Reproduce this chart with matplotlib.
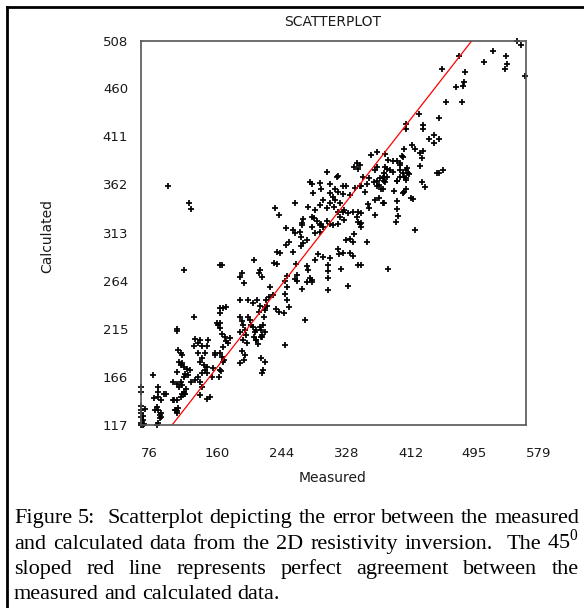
import matplotlib
matplotlib.use("Agg")
import matplotlib.pyplot as plt
from matplotlib.lines import Line2D

plt.rcParams["font.family"] = "DejaVu Sans"
plt.rcParams["mathtext.fontset"] = "custom"
plt.rcParams["mathtext.rm"] = "Liberation Serif"

# --- data (measured vs calculated) ---
X_TICKS = [76, 160, 244, 328, 412, 495, 579]
Y_TICKS = [117, 166, 215, 264, 313, 362, 411, 460, 508]
PERFECT = [117, 508]

outlier_meas = [112, 139, 142, 132, 146, 578, 399, 434]
outlier_calc = [360, 343, 337, 275, 227, 472, 276, 316]

upper_meas = [567, 573, 536, 553, 554, 552, 524, 492, 469, 500, 498, 497, 487, 475, 495,
              466, 439, 422, 422, 445, 444, 459, 453, 466, 459, 430, 434, 440, 445, 443,
              440, 420, 471, 463, 443, 447, 395, 377, 384, 399, 406, 411, 418, 414, 415,
              422, 426, 420, 406, 402, 397, 394, 397, 392, 385, 382, 388, 384, 387, 358,
              362, 360, 354, 366, 372, 364, 369, 374, 380, 384, 393, 390, 410, 422, 419,
              422, 407, 431, 410, 411, 412, 409, 393, 387, 382, 373, 374, 382, 364, 360,
              358, 362, 364, 347, 353, 340, 332, 334, 319, 297, 299, 310, 312, 301, 323,
              330, 340, 344, 323, 334, 340, 349, 356, 362, 327, 330, 336, 323, 319, 328,
              334, 341, 336, 342, 314, 310, 303, 295, 277, 251, 257, 288, 286, 300, 306,
              311, 319, 323, 327, 334, 360, 364, 266, 275, 417, 415, 423, 395, 419, 425,
              422, 415, 411, 393, 395, 392, 420, 429, 392, 465]
upper_calc = [508, 504, 498, 493, 485, 479, 487, 493, 479, 476, 466, 462, 461, 446, 446,
              430, 434, 423, 418, 422, 418, 412, 408, 408, 404, 402, 398, 394, 396, 389,
              381, 398, 377, 374, 364, 359, 393, 392, 395, 387, 386, 386, 390, 382, 377,
              377, 373, 370, 375, 377, 378, 374, 370, 369, 380, 377, 368, 365, 361, 384,
              382, 378, 380, 370, 362, 360, 354, 368, 364, 360, 365, 357, 365, 366, 353,
              357, 355, 347, 345, 337, 330, 324, 343, 348, 346, 342, 338, 331, 333, 334,
              329, 322, 319, 333, 334, 334, 370, 371, 375, 364, 362, 363, 357, 353, 362,
              357, 360, 360, 353, 354, 352, 351, 358, 360, 349, 346, 343, 343, 338, 339,
              334, 336, 329, 326, 346, 341, 336, 339, 343, 338, 331, 327, 323, 329, 325,
              322, 325, 322, 321, 322, 324, 323, 318, 316, 391, 384, 379, 380, 374, 374,
              368, 370, 365, 370, 364, 357, 354, 348, 343, 374]

mid_meas = [372, 349, 354, 353, 344, 334, 335, 340, 349, 353, 360, 363, 338, 347, 321,
            320, 320, 321, 308, 303, 314, 323, 293, 295, 297, 300, 299, 293, 287, 279,
            278, 280, 280, 267, 264, 267, 264, 267, 270, 263, 256, 253, 249, 243, 240,
            241, 238, 237, 232, 230, 235, 224, 211, 208, 206, 254, 250, 258, 254, 266,
            270, 275, 277, 284, 285, 286, 288, 285, 293, 303, 310, 314, 300, 302, 310,
            205, 216, 223, 228, 232, 238, 230, 205, 208, 210, 216, 219, 212, 206, 214,
            210, 215, 208, 212, 211, 206, 220, 223, 225, 227, 232, 236, 238, 233, 227,
            235, 233, 238, 236, 235, 264, 291, 179, 182, 180, 184, 188, 179, 179, 176,
            182, 186, 188, 193, 190, 184, 179, 173, 182, 185, 180, 245, 224, 226, 229,
            233, 235]
mid_calc = [303, 306, 311, 303, 305, 296, 291, 292, 292, 289, 280, 280, 276, 259, 274,
            267, 254, 280, 291, 285, 288, 287, 279, 275, 267, 265, 263, 263, 255, 281,
            266, 264, 270, 269, 264, 258, 250, 244, 237, 231, 232, 235, 249, 247, 244,
            238, 234, 227, 275, 272, 268, 285, 262, 272, 268, 281, 282, 292, 293, 300,
            303, 293, 312, 314, 308, 321, 302, 299, 305, 312, 314, 319, 319, 328, 321,
            244, 244, 241, 244, 238, 237, 232, 227, 223, 219, 227, 224, 214, 212, 209,
            204, 200, 192, 188, 183, 180, 219, 217, 212, 214, 217, 219, 212, 207, 204,
            207, 185, 181, 173, 170, 198, 224, 280, 280, 236, 236, 237, 231, 221, 221,
            210, 207, 203, 206, 200, 196, 190, 188, 186, 183, 173, 258, 207, 204, 199,
            214, 209]

low_meas = [147, 153, 164, 151, 156, 163, 145, 151, 160, 156, 153, 159, 163, 160, 156,
            151, 153, 156, 153, 147, 142, 123, 124, 125, 128, 130, 126, 130, 128, 132,
            123, 134, 136, 141, 138, 132, 128, 123, 130, 126, 132, 134, 130, 128, 123,
            121, 123, 125, 92, 76, 76, 99, 98, 99, 106, 109, 103, 93, 97, 99,
            95, 103, 101, 99, 97, 103, 77, 76, 82, 77, 79, 76, 79, 77, 80,
            76, 79, 119, 122, 123, 177, 179, 173, 170, 163, 169, 184, 181, 178, 166,
            162, 135, 133, 118, 118, 101]
low_calc = [205, 204, 204, 200, 197, 197, 197, 190, 190, 185, 181, 178, 176, 173, 170,
            166, 161, 156, 148, 163, 161, 215, 213, 193, 190, 188, 181, 180, 178, 176,
            171, 169, 174, 173, 168, 166, 161, 159, 158, 156, 151, 149, 149, 146, 142,
            132, 131, 134, 168, 156, 151, 156, 151, 146, 149, 149, 142, 144, 135, 132,
            132, 129, 124, 119, 117, 125, 136, 132, 133, 129, 126, 125, 122, 119, 118,
            117, 117, 142, 132, 129, 219, 216, 190, 175, 170, 166, 181, 172, 166, 146,
            143, 154, 149, 161, 142, 127]

CAPTION = [
    "Figure 5:  Scatterplot depicting the error between the measured",
    "and calculated data from the 2D resistivity inversion.  The 45$^\\mathrm{0}$",
    "sloped red line represents perfect agreement between the",
    "measured and calculated data.",
]

W, H = 584, 608
fig = plt.figure(figsize=(W / 100, H / 100), dpi=100)
fig.patch.set_facecolor("white")

ax = fig.add_axes([140.7 / W, 1 - 425 / H, (526 - 140.7) / W, (425 - 41) / H])
marker_kw = dict(ls="none", marker="+", ms=5, mew=1.25, color="black", clip_on=False)
for xs, ys in [(outlier_meas, outlier_calc), (upper_meas, upper_calc),
               (mid_meas, mid_calc), (low_meas, low_calc)]:
    ax.plot(xs, ys, **marker_kw)
ax.plot(PERFECT, PERFECT, color="red", lw=0.9)

ax.set_xlim(76, 579)
ax.set_ylim(117, 508)
ax.set_xticks(X_TICKS)
ax.set_xticklabels([str(v) for v in X_TICKS], ha="left")
ax.set_yticks(Y_TICKS)
ax.set_yticklabels([str(v) for v in Y_TICKS])
ax.tick_params(length=0, labelsize=9.5, labelcolor="#1a1a1a")
ax.tick_params(axis="x", pad=16)
ax.tick_params(axis="y", pad=9)
for s in ax.spines.values():
    s.set_color("#555555")
    s.set_linewidth(1.2)

fig.text(333 / W, 1 - 22 / H, "SCATTERPLOT", ha="center", va="center", fontsize=10, color="#1a1a1a")
fig.text(47 / W, 1 - 236 / H, "Calculated", rotation=90, ha="center", va="center",
         fontsize=10, color="#1a1a1a")
fig.text(333 / W, 1 - 478 / H, "Measured", ha="center", va="center", fontsize=10, color="#1a1a1a")

# outer frame (left and top edges only are visible)
fig.add_artist(Line2D([7 / W, 7 / W], [0, 1 - 7 / H], transform=fig.transFigure, color="black", lw=2))
fig.add_artist(Line2D([7 / W, 1], [1 - 7 / H, 1 - 7 / H], transform=fig.transFigure, color="black", lw=2))

# justified caption
CAP_SIZE = 16
renderer = fig.canvas.get_renderer()
left, right = 14, 579
baselines = [523, 549, 574, 599]
probe2 = fig.text(0, 0, "a a", family="Liberation Serif", fontsize=CAP_SIZE)
probe1 = fig.text(0, 0, "aa", family="Liberation Serif", fontsize=CAP_SIZE)
space_w = probe2.get_window_extent(renderer).width - probe1.get_window_extent(renderer).width
probe2.remove()
probe1.remove()
for i, (line, base) in enumerate(zip(CAPTION, baselines)):
    tokens = line.split(" ")
    texts = []
    widths = []
    for tok in tokens:
        t = fig.text(0, 1 - base / H, tok, ha="left", va="baseline",
                     family="Liberation Serif", fontsize=CAP_SIZE)
        texts.append(t)
        widths.append(t.get_window_extent(renderer).width if tok else 0.0)
    if i < len(CAPTION) - 1:
        gap = (right - left - sum(widths)) / (len(tokens) - 1)
    else:
        gap = space_w
    x = left
    for t, w in zip(texts, widths):
        t.set_x(x / W)
        x += w + gap

fig.savefig("out.png", dpi=100)
